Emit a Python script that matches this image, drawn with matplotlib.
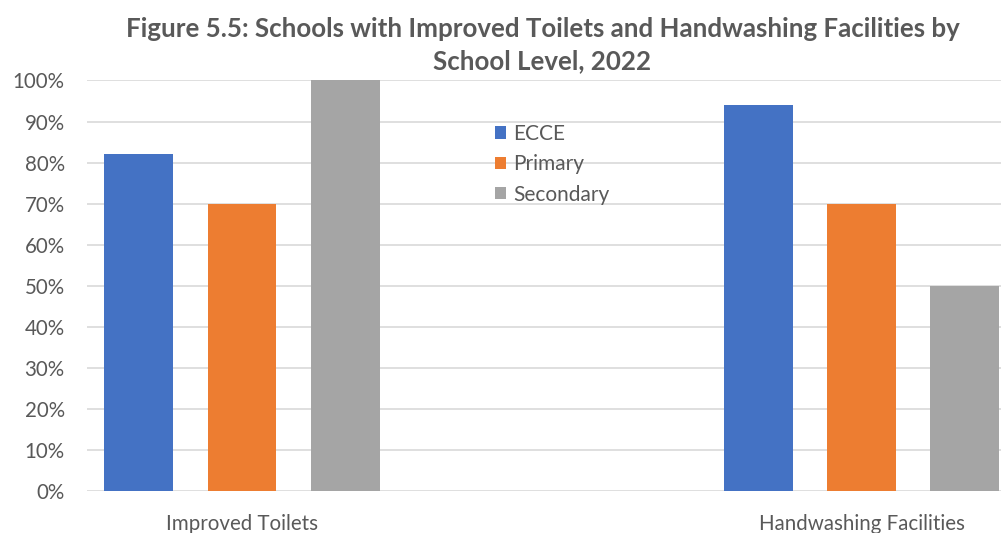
import numpy as np
import matplotlib.pyplot as plt
from matplotlib.ticker import PercentFormatter

plt.rcParams['font.family'] = ['Lato', 'DejaVu Sans']

categories = ["Improved Toilets", "Handwashing Facilities"]
levels = ["ECCE", "Primary", "Secondary"]
ecce = [0.82, 0.94]
primary = [0.70, 0.70]
secondary = [1.00, 0.50]
colors = ["#4472C4", "#ED7D31", "#A5A5A5"]
title = "Figure 5.5: Schools with Improved Toilets and Handwashing Facilities by\nSchool Level, 2022"

text_color = "#595959"

fig = plt.figure(figsize=(10.01, 5.33), dpi=100)
ax = fig.add_axes([0.0869, 0.0779, 0.9131, 0.7711])

x = np.arange(len(categories))
step = 0.1667
width = 0.111
for i, (vals, name) in enumerate(zip([ecce, primary, secondary], levels)):
    ax.bar(x + (i - 1) * step, vals, width, color=colors[i], label=name, zorder=3)

ax.set_xlim(-0.25, 1.225)
ax.set_ylim(0, 1.0)
ax.set_yticks(np.arange(0, 1.01, 0.1))
ax.yaxis.set_major_formatter(PercentFormatter(1.0, decimals=0))
ax.set_xticks(x)
ax.set_xticklabels(categories)
ax.grid(axis='y', color="#D9D9D9", linewidth=1.2, zorder=0)
ax.tick_params(axis='both', length=0, labelsize=14.8, colors=text_color)
ax.tick_params(axis='y', pad=16)
ax.tick_params(axis='x', pad=16)
for s in ax.spines.values():
    s.set_visible(False)

fig.text(0.542, 0.968, title, ha='center', va='top', fontsize=18.6, fontweight='bold',
         color=text_color, linespacing=1.42)

leg = ax.legend(loc='upper left', bbox_to_anchor=(0.437, 0.915), frameon=False,
                fontsize=15, handlelength=0.55, handleheight=0.55, handletextpad=0.35,
                labelspacing=0.5, labelcolor=text_color, borderaxespad=0)

fig.savefig("out.png", dpi=100)
